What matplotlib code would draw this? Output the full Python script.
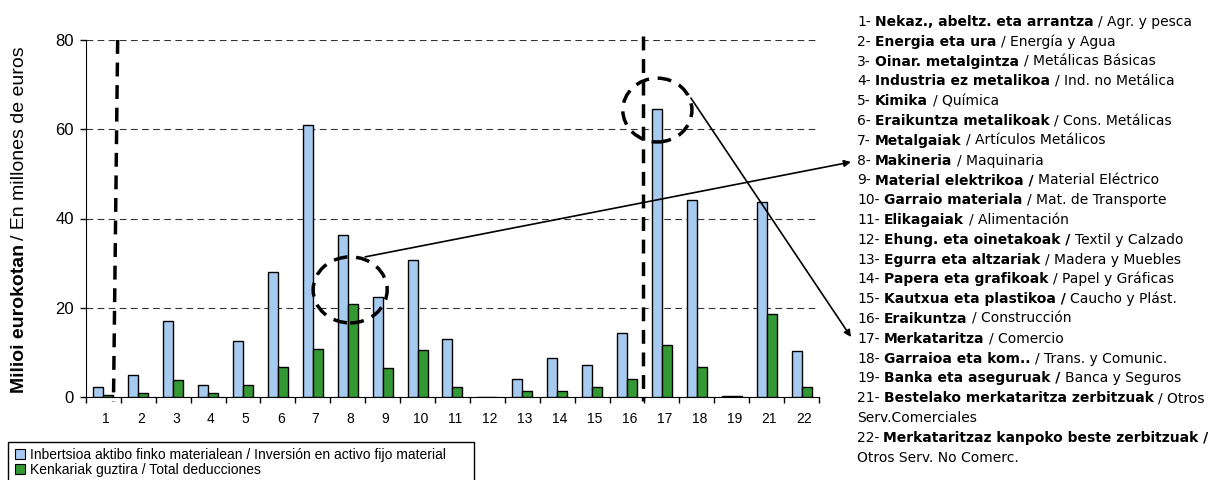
import numpy as np
import matplotlib
matplotlib.use("Agg")
import matplotlib.pyplot as plt
from matplotlib.patches import Ellipse, Rectangle, Patch

plt.rcParams['font.family'] = ['Liberation Sans', 'DejaVu Sans']

# sector codes (there is no 20)
sectors = ['1', '2', '3', '4', '5', '6', '7', '8', '9', '10', '11',
           '12', '13', '14', '15', '16', '17', '18', '19', '21', '22']
inversion = [2.3, 4.9, 17.1, 2.7, 12.6, 27.9, 61.0, 36.3, 22.3, 30.8, 13.1,
             0.0, 4.0, 8.7, 7.2, 14.3, 64.5, 44.1, 0.3, 43.8, 10.2]
deducciones = [0.4, 1.0, 3.8, 0.8, 2.7, 6.8, 10.8, 20.8, 6.4, 10.5, 2.3,
               0.0, 1.3, 1.3, 2.3, 4.0, 11.7, 6.8, 0.2, 18.7, 2.3]

# side list of sector names: basque part (bold) and spanish part
names_eus = ['Nekaz., abeltz. eta arrantza', 'Energia eta ura', 'Oinar. metalgintza',
             'Industria ez metalikoa', 'Kimika', 'Eraikuntza metalikoak', 'Metalgaiak',
             'Makineria', 'Material elektrikoa /', 'Garraio materiala', 'Elikagaiak',
             'Ehung. eta oinetakoak /', 'Egurra eta altzariak', 'Papera eta grafikoak',
             'Kautxua eta plastikoa /', 'Eraikuntza', 'Merkataritza', 'Garraioa eta kom..',
             'Banka eta aseguruak /', 'Bestelako merkataritza zerbitzuak',
             'Merkataritzaz kanpoko beste zerbitzuak /']
names_es = ['/ Agr. y pesca', '/ Energía y Agua', '/ Metálicas Básicas', '/ Ind. no Metálica',
            '/ Química', '/ Cons. Metálicas', '/ Artículos Metálicos', '/ Maquinaria',
            'Material Eléctrico', '/ Mat. de Transporte', '/ Alimentación', 'Textil y Calzado',
            '/ Madera y Muebles', '/ Papel y Gráficas', 'Caucho y Plást.', '/ Construcción',
            '/ Comercio', '/ Trans. y Comunic.', 'Banca y Seguros', '/ Otros', '']
wrapped = {'21': 'Serv.Comerciales', '22': 'Otros Serv. No Comerc.'}

legend_labels = ['Inbertsioa aktibo finko materialean / Inversión en activo fijo material',
                 'Kenkariak guztira / Total deducciones']
blue = '#A6CAF0'
green = '#339933'

W, H = 1224, 480
fig = plt.figure(figsize=(W / 100, H / 100), dpi=100)
ax = fig.add_axes([85.9 / W, 1 - 397 / H, (819 - 85.9) / W, 357 / H])
renderer = fig.canvas.get_renderer()

x = np.arange(len(sectors))
w = 0.287
ax.bar(x - w / 2, inversion, w, color=blue, edgecolor='black', linewidth=1, zorder=3)
ax.bar(x + w / 2, deducciones, w, color=green, edgecolor='black', linewidth=1, zorder=3)

ax.set_xlim(-0.5, len(sectors) - 0.5)
ax.set_ylim(0, 80)
ax.set_yticks([0, 20, 40, 60, 80])
ax.tick_params(axis='y', labelsize=12, length=4.5, width=1, pad=4)
ax.set_xticks(np.arange(len(sectors) + 1) - 0.5)
ax.set_xticklabels([])
ax.set_xticks(x + 0.08, minor=True)
ax.set_xticklabels(sectors, minor=True)
ax.tick_params(axis='x', which='major', length=4, width=1)
ax.tick_params(axis='x', which='minor', length=0, labelsize=10, pad=11)
ax.yaxis.grid(True, linestyle=(0, (6, 4)), color='#333333', linewidth=0.8, zorder=0)
ax.set_axisbelow(True)
for s in ['top', 'right']:
    ax.spines[s].set_visible(False)

# thick dashed separators
dash = (0, (4, 2.5))
ax.plot([0.41, 0.29], [80, -1], color='black', lw=2.5, linestyle=dash, clip_on=False, zorder=4)
ax.plot([15.47, 15.47], [80.8, -1], color='black', lw=2.5, linestyle=dash, clip_on=False, zorder=4)

# dashed circles + arrows to the side list
ax.add_patch(Ellipse((7.07, 24.0), 2.12, 14.8, fill=False, ec='black', lw=2.5,
                     linestyle=dash, clip_on=False, zorder=5))
ax.add_patch(Ellipse((15.87, 64.3), 1.98, 14.3, fill=False, ec='black', lw=2.5,
                     linestyle=dash, clip_on=False, zorder=5))
arr = dict(arrowstyle='-|>', color='black', lw=1.2, mutation_scale=10, shrinkA=0, shrinkB=0)
ax.annotate('', xy=(851 / W, 1 - 162 / H), xycoords='figure fraction',
            xytext=(7.5, 31.4), textcoords='data', arrowprops=arr, annotation_clip=False)
ax.annotate('', xy=(851 / W, 1 - 337 / H), xycoords='figure fraction',
            xytext=(16.83, 67.0), textcoords='data', arrowprops=arr, annotation_clip=False)

# y label: bold basque + normal spanish
yl = fig.text(19.5 / W, 1 - 393 / H, 'Milioi eurokotan', rotation=90, ha='center',
              va='bottom', fontsize=14, fontweight='bold')
bb = yl.get_window_extent(renderer)
fig.text(19.5 / W, (bb.y1 + 4) / H, '/ En millones de euros', rotation=90, ha='center',
         va='bottom', fontsize=14)


# side list, pieces placed one after the other on the same baseline
def put(xpix, ypix, txt, bold=False):
    t = fig.text(xpix / W, 1 - ypix / H, txt, va='baseline', ha='left', fontsize=10,
                 family='DejaVu Sans', fontweight='bold' if bold else 'normal')
    return t.get_window_extent(renderer).x1


x0 = 857
row = 0
for num, eus, es in zip(sectors, names_eus, names_es):
    y = 26 + 19.8 * row
    xe = put(x0, y, num + '-')
    xe = put(xe + 4, y, eus, bold=True)
    if es:
        put(xe + 5, y, es)
    row += 1
    if num in wrapped:
        put(x0, 26 + 19.8 * row, wrapped[num])
        row += 1

# legend in a box running off the bottom
handles = [Patch(facecolor=blue, edgecolor='black', lw=0.8),
           Patch(facecolor=green, edgecolor='black', lw=0.8)]
ax.legend(handles, legend_labels, loc='upper left', bbox_to_anchor=(15 / W, 1 - 448 / H),
          bbox_transform=fig.transFigure, frameon=False, fontsize=10, handlelength=0.7,
          handleheight=0.7, handletextpad=0.4, labelspacing=0.05, borderpad=0, borderaxespad=0)
fig.add_artist(Rectangle((8 / W, -0.05), (474 - 8) / W, (H - 442) / H + 0.05,
                         transform=fig.transFigure, fill=False, ec='black', lw=1, clip_on=False))

fig.savefig('out.png', dpi=100)
